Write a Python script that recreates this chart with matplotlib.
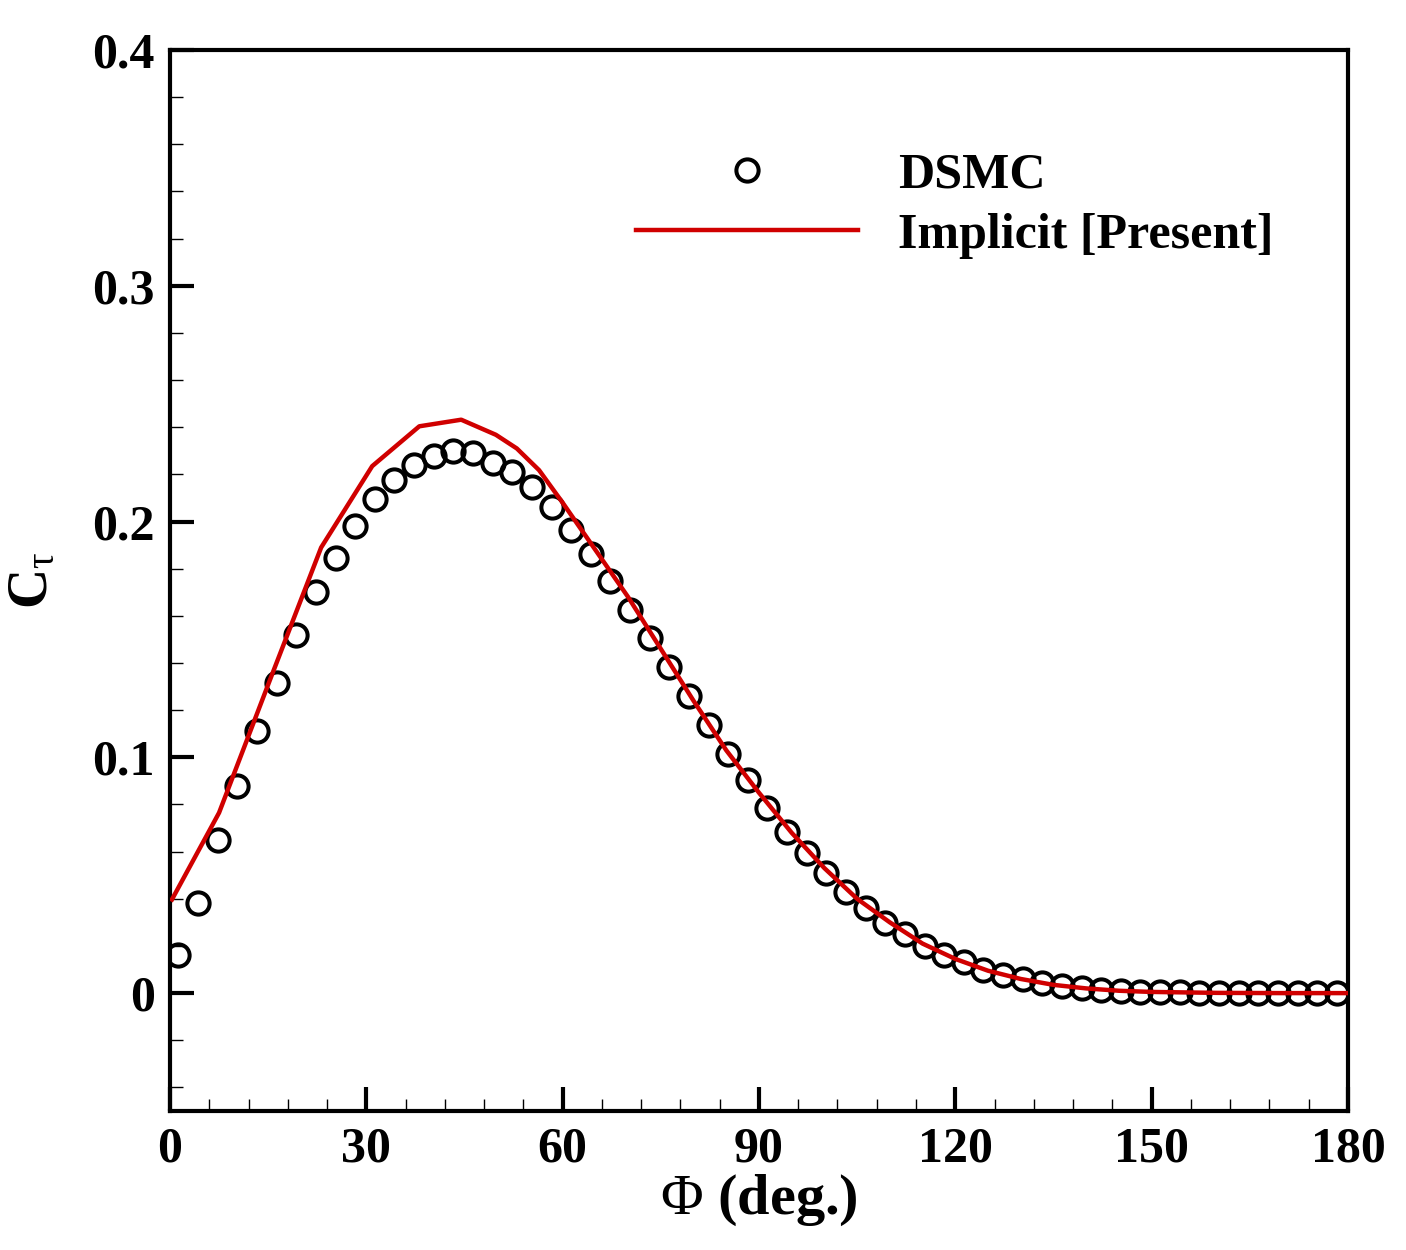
import numpy as np
import matplotlib
matplotlib.use("Agg")
import matplotlib.pyplot as plt
from matplotlib.ticker import MultipleLocator

plt.rcParams['font.family'] = ['Liberation Serif', 'DejaVu Serif']
plt.rcParams['mathtext.fontset'] = 'custom'
plt.rcParams['mathtext.rm'] = 'Liberation Serif'
plt.rcParams['mathtext.it'] = 'Liberation Serif:italic'
plt.rcParams['mathtext.bf'] = 'Liberation Serif:bold'

# DSMC data (circles)
dsmc_phi = [1.3, 4.3, 7.3, 10.3, 13.3, 16.3, 19.3, 22.3, 25.3, 28.3,
            31.3, 34.3, 37.3, 40.3, 43.3, 46.3, 49.3, 52.3, 55.3, 58.3,
            61.3, 64.3, 67.3, 70.3, 73.3, 76.3, 79.3, 82.3, 85.3, 88.3,
            91.3, 94.3, 97.3, 100.3, 103.3, 106.3, 109.3, 112.3, 115.3, 118.3,
            121.3, 124.3, 127.3, 130.3, 133.3, 136.3, 139.3, 142.3, 145.3, 148.3,
            151.3, 154.3, 157.3, 160.3, 163.3, 166.3, 169.3, 172.3, 175.3, 178.3]
dsmc_ct = [0.0163, 0.0381, 0.0649, 0.0880, 0.1110, 0.1316, 0.1520, 0.1701, 0.1847, 0.1981,
           0.2095, 0.2175, 0.2241, 0.2278, 0.2300, 0.2289, 0.2250, 0.2210, 0.2145, 0.2060,
           0.1965, 0.1862, 0.1747, 0.1627, 0.1507, 0.1384, 0.1260, 0.1137, 0.1016, 0.0903,
           0.0787, 0.0685, 0.0593, 0.0508, 0.0429, 0.0359, 0.0299, 0.0250, 0.0200, 0.0161,
           0.0130, 0.0100, 0.0076, 0.0059, 0.0042, 0.0031, 0.0020, 0.0014, 0.0010, 0.0006,
           0.0004, 0.0003, 0.0002, 0.0001, 0.0, 0.0, 0.0, 0.0, 0.0, 0.0]

# implicit solver (red line)
impl_phi = [0.3, 7.5, 15.3, 23.1, 30.9, 38.1, 44.5, 49.8, 53.0, 56.4,
            60, 65, 70, 75, 80, 85, 90, 95, 100, 105,
            110, 115, 120, 125, 130, 135, 140, 145, 150, 160, 170, 180]
impl_ct = [0.0397, 0.0765, 0.133, 0.189, 0.2235, 0.2404, 0.2432, 0.2368, 0.231, 0.2218,
           0.208, 0.188, 0.168, 0.146, 0.124, 0.103, 0.085, 0.068, 0.053, 0.040,
           0.030, 0.021, 0.0145, 0.0095, 0.006, 0.0035, 0.002, 0.001, 0.0005, 0.0001, 0.0, 0.0]

fig = plt.figure(figsize=(14.06, 12.5), dpi=100)
ax = fig.add_axes([0.1209, 0.1112, 0.9587 - 0.1209, 0.96 - 0.1112])

ax.plot(dsmc_phi, dsmc_ct, 'o', ms=16, mfc='none', mec='black', mew=2.9,
        label='DSMC', zorder=2)
ax.plot(impl_phi, impl_ct, '-', color='#d00000', lw=3.2,
        label='Implicit [Present]', zorder=3)

ax.set_xlim(0, 180)
ax.set_ylim(-0.05, 0.4)
ax.xaxis.set_major_locator(MultipleLocator(30))
ax.xaxis.set_minor_locator(MultipleLocator(6))
ax.yaxis.set_major_locator(MultipleLocator(0.1))
ax.yaxis.set_minor_locator(MultipleLocator(0.02))
ax.set_yticks([0, 0.1, 0.2, 0.3, 0.4])
ax.set_yticklabels(['0', '0.1', '0.2', '0.3', '0.4'])

ax.tick_params(which='major', direction='in', length=17, width=3.0,
               labelsize=36, pad=11, top=False, right=False)
ax.tick_params(which='minor', direction='in', length=9, width=1.0,
               top=False, right=False)
for lab in ax.get_xticklabels() + ax.get_yticklabels():
    lab.set_fontweight('bold')

for s in ax.spines.values():
    s.set_linewidth(3.0)

ax.set_xlabel(r'$\mathrm{\Phi}$ (deg.)', fontsize=42, fontweight='bold', labelpad=0)
ax.set_ylabel(r'C$_{\mathrm{\tau}}$', fontsize=40, fontweight='bold', labelpad=24)

leg = ax.legend(loc='upper left', bbox_to_anchor=(0.3785, 0.922), frameon=False,
                prop={'size': 36, 'weight': 'bold'}, handlelength=4.44,
                handletextpad=0.8, labelspacing=0.28, borderaxespad=0)

fig.savefig('out.png', dpi=100)
